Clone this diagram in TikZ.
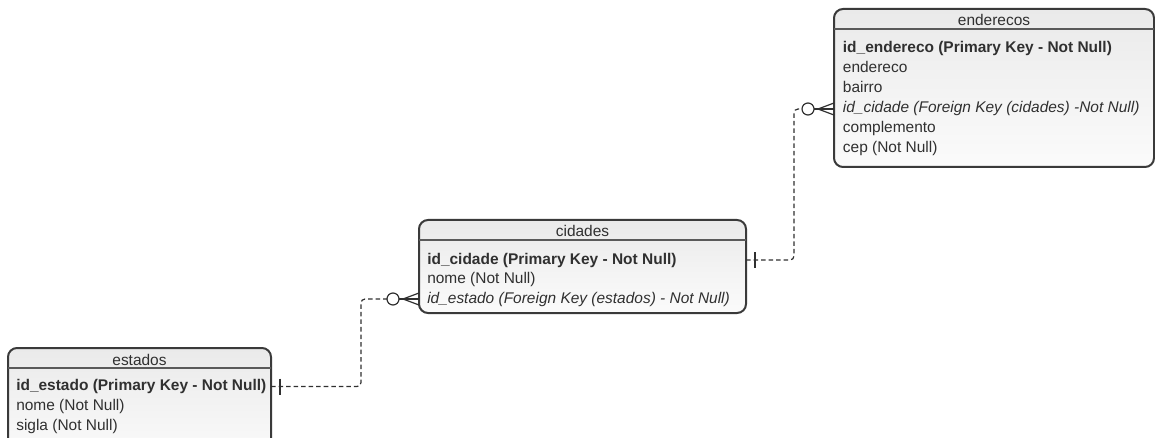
\documentclass[tikz,border=0pt]{standalone}
\usepackage{fontspec}
\setmainfont{Liberation Sans}
\definecolor{ink}{HTML}{303030}
\definecolor{edge}{HTML}{3A3A3A}
\definecolor{boxtop}{HTML}{EAEAEA}
\definecolor{boxbot}{HTML}{FBFBFB}
\definecolor{hline}{HTML}{5A5A5A}
\begin{document}
\begin{tikzpicture}[x=0.75pt,y=-0.75pt,
  tbl/.style={draw=edge, line width=1.5pt, rounded corners=6.75pt,
    top color=boxtop, bottom color=boxbot, inner sep=0pt, outer sep=0pt,
    anchor=north west},
  hrule/.style={draw=hline, line width=1.3pt},
  ttl/.style={font=\fontsize{11.6}{13}\selectfont, text=ink, inner sep=0pt, anchor=base},
  fld/.style={font=\fontsize{11.6}{13}\selectfont, text=ink, inner sep=0pt, anchor=base west},
  pk/.style={fld, font=\fontsize{11.6}{13}\selectfont\bfseries},
  fk/.style={fld, font=\fontsize{11.6}{13}\selectfont\itshape},
  conn/.style={draw=ink, line width=0.9pt, dash pattern=on 3.4pt off 2.25pt, rounded corners=3pt},
  endmark/.style={draw=ink, line width=0.9pt},
]
\useasboundingbox (0,0) rectangle (1155,438);
\clip (0,0) rectangle (1155,438);

% ---- table: estados ----
\node[tbl, minimum width=197.25pt, minimum height=84pt] (estados) at (8,348) {};
\draw[hrule] ([yshift=-15pt]estados.north west) -- ([yshift=-15pt]estados.north east);
\node[ttl] (estT) at ([yshift=-12.75pt]estados.north) {estados};
\node[pk] (estPK) at ([shift={(6pt,-31.9pt)}]estados.north west) {id\_estado (Primary Key - Not Null)};
\node[fld] (estNome) at ([shift={(6pt,-46.9pt)}]estados.north west) {nome (Not Null)};
\node[fld] (estSigla) at ([shift={(6pt,-61.5pt)}]estados.north west) {sigla (Not Null)};

% ---- table: cidades ----
\node[tbl, minimum width=245.25pt, minimum height=69.75pt] (cidades) at (419,220) {};
\draw[hrule] ([yshift=-15pt]cidades.north west) -- ([yshift=-15pt]cidades.north east);
\node[ttl] (cidT) at ([yshift=-12.75pt]cidades.north) {cidades};
\node[pk] (cidPK) at ([shift={(6pt,-33pt)}]cidades.north west) {id\_cidade (Primary Key - Not Null)};
\node[fld] (cidNome) at ([shift={(6pt,-47.6pt)}]cidades.north west) {nome (Not Null)};
\node[fk] (cidFK) at ([shift={(6pt,-62.25pt)}]cidades.north west) {id\_estado (Foreign Key (estados) - Not Null)};

% ---- table: enderecos ----
\node[tbl, minimum width=240pt, minimum height=118.5pt] (enderecos) at (834,9) {};
\draw[hrule] ([yshift=-15pt]enderecos.north west) -- ([yshift=-15pt]enderecos.north east);
\node[ttl] (endT) at ([yshift=-12.75pt]enderecos.north) {enderecos};
\node[pk] (endPK) at ([shift={(6.5pt,-33pt)}]enderecos.north west) {id\_endereco (Primary Key - Not Null)};
\node[fld] (endEnd) at ([shift={(6.5pt,-48pt)}]enderecos.north west) {endereco};
\node[fld] (endBairro) at ([shift={(6.5pt,-63pt)}]enderecos.north west) {bairro};
\node[fk] (endFK) at ([shift={(6.5pt,-78pt)}]enderecos.north west) {id\_cidade (Foreign Key (cidades) -Not Null)};
\node[fld] (endComp) at ([shift={(6.5pt,-93pt)}]enderecos.north west) {complemento};
\node[fld] (endCep) at ([shift={(6.5pt,-108pt)}]enderecos.north west) {cep (Not Null)};

% ---- relationship: estados (1) -- cidades (0..n) ----
\coordinate (estOut) at (estPK.west -| estados.east);
\coordinate (cidIn) at (cidFK.west -| cidades.west);
\coordinate (bendA) at (361,0);
\draw[conn] (estOut) -| (bendA |- cidIn) -- ([xshift=-24pt]cidIn);
\draw[endmark] ([shift={(6.75pt,6pt)}]estOut) -- ([shift={(6.75pt,-6pt)}]estOut);
\draw[endmark] ([xshift=-19.5pt]cidIn) circle[radius=4.5pt];
\draw[endmark] ([xshift=-15pt]cidIn) -- (cidIn);
\draw[endmark] ([yshift=4.5pt]cidIn) -- ([xshift=-12pt]cidIn) -- ([yshift=-4.5pt]cidIn);

% ---- relationship: cidades (1) -- enderecos (0..n) ----
\coordinate (cidOut) at (cidPK.west -| cidades.east);
\coordinate (endIn) at (endFK.west -| enderecos.west);
\coordinate (bendB) at (794,0);
\draw[conn] (cidOut) -| (bendB |- endIn) -- ([xshift=-24pt]endIn);
\draw[endmark] ([shift={(6.75pt,6pt)}]cidOut) -- ([shift={(6.75pt,-6pt)}]cidOut);
\draw[endmark] ([xshift=-19.5pt]endIn) circle[radius=4.5pt];
\draw[endmark] ([xshift=-15pt]endIn) -- (endIn);
\draw[endmark] ([yshift=4.5pt]endIn) -- ([xshift=-12pt]endIn) -- ([yshift=-4.5pt]endIn);
\end{tikzpicture}
\end{document}
